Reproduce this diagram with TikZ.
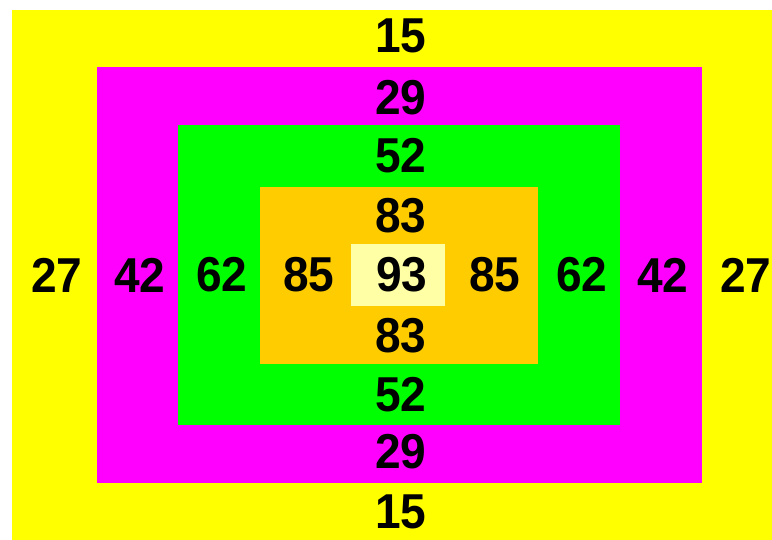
\documentclass[tikz,border=0pt]{standalone}
\usepackage{fontspec}
\setmainfont{Liberation Sans}
\newfontfamily\numfont[FakeStretch=0.94]{Liberation Sans}
\definecolor{cYel}{HTML}{FFFF00}
\definecolor{cMag}{HTML}{FF00FF}
\definecolor{cGrn}{HTML}{00FF00}
\definecolor{cOrg}{HTML}{FFCC00}
\definecolor{cPale}{HTML}{FFFFA6}
\begin{document}
\begin{tikzpicture}[x=1pt,y=-1pt,
  num/.style={inner sep=0pt,font=\numfont\fontsize{49}{49}\selectfont\bfseries,text=black}]
\useasboundingbox (0,0) rectangle (772,540);
\fill[white] (0,0) rectangle (772,540);
\fill[cYel] (12,10) rectangle (772,540);
\fill[cMag] (97,67) rectangle (702,483);
\fill[cGrn] (178,125) rectangle (620,425);
\fill[cOrg] (260,187) rectangle (538,364);
\fill[cPale] (351,244) rectangle (445,306);
\node[num] (t15) at (401,36) {15};
\node[num] (t29) at (401,98) {29};
\node[num] (t52) at (401,156) {52};
\node[num] (t83) at (401,216) {83};
\node[num] (c93) at (402,275) {93};
\node[num] (b83) at (401,336) {83};
\node[num] (b52) at (401,395) {52};
\node[num] (b29) at (401,452) {29};
\node[num] (b15) at (401,512) {15};
\node[num] (l27) at (57,275) {27};
\node[num] (l42) at (140,275) {42};
\node[num] (l62) at (222,275) {62};
\node[num] (l85) at (309,275) {85};
\node[num] (r85) at (495,275) {85};
\node[num] (r62) at (582,275) {62};
\node[num] (r42) at (663,275) {42};
\node[num] (r27) at (746,275) {27};
\end{tikzpicture}
\end{document}
